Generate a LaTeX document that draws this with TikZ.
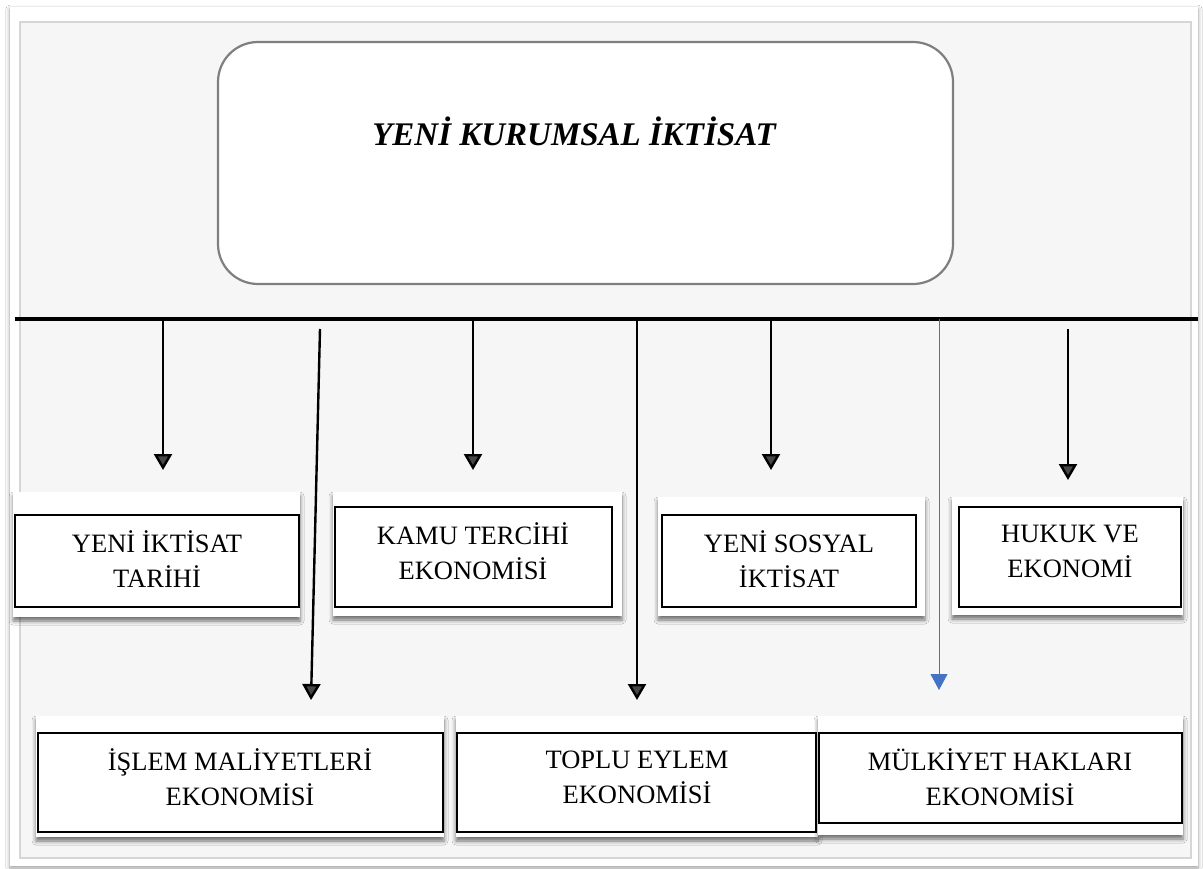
\documentclass[tikz,border=0pt]{standalone}
\usepackage{fontspec}
\setmainfont{Liberation Serif}
\usetikzlibrary{arrows.meta,shadows.blur}
\definecolor{panelgray}{HTML}{F6F6F6}
\definecolor{frameline}{HTML}{D6D6D6}
\definecolor{roundedge}{HTML}{7F7F7F}
\definecolor{linkblue}{HTML}{4472C4}

\begin{document}
\begin{tikzpicture}[x=1pt,y=-1pt,
  panel/.style={fill=white, blur shadow={shadow xshift=0pt, shadow yshift=-4pt,
      shadow blur radius=4pt, shadow opacity=55}},
  topic/.style={draw=black, line width=1.3pt, fill=white, inner sep=0pt},
  topictext/.style={align=center, font=\fontsize{26.5}{35}\selectfont, inner sep=0pt},
  conn/.style={line width=2.4pt, -{Triangle[width=18pt,length=16pt]}},
  bluelink/.style={draw=linkblue, line width=0.9pt, -{Triangle[width=17pt,length=16pt]}, fill=linkblue}
]
% canvas
\useasboundingbox (0,0) rectangle (1203,869);
\fill[white] (0,0) rectangle (1203,869);

% bevelled frame
\fill[white, blur shadow={shadow xshift=0pt, shadow yshift=-2pt, shadow blur radius=4pt, shadow opacity=40}]
  (10,7) rectangle (1198,866);
\filldraw[fill=panelgray, draw=frameline, line width=2pt] (20,22) rectangle (1191,858);

% root box
\node[draw=roundedge, line width=2.2pt, rounded corners=40pt, fill=white,
      minimum width=735pt, minimum height=242pt, inner sep=0pt] (root) at (585.5,163) {};
\node[font=\fontsize{33}{38}\selectfont\bfseries\itshape, inner sep=0pt] (roottext) at (574,131) {YENİ KURUMSAL İKTİSAT};

% bus line
\coordinate (busL) at (15,319);
\coordinate (busR) at (1198,319);
\draw[line width=4pt] (busL) -- (busR);

% white panels behind the topic boxes
\path[panel] (13,492) rectangle (300,617);
\path[panel] (333,492) rectangle (622,616);
\path[panel] (658,497) rectangle (925,616);
\path[panel] (952,497) rectangle (1183,615);
\path[panel] (36,716) rectangle (444,837);
\path[panel] (456,716) rectangle (818,837);
\path[panel] (818,716) rectangle (1183,835);

% topic boxes, upper row
\node[topic, minimum width=284pt, minimum height=92pt] (tarih) at (157,561) {};
\node[topic, minimum width=277pt, minimum height=100pt] (kamu) at (473.5,557) {};
\node[topic, minimum width=254pt, minimum height=92pt] (sosyal) at (789,561) {};
\node[topic, minimum width=222pt, minimum height=100pt] (hukuk) at (1070,557) {};
% topic boxes, lower row
\node[topic, minimum width=405pt, minimum height=99pt] (islem) at (240.5,782.5) {};
\node[topic, minimum width=359pt, minimum height=99pt] (toplu) at (636.5,782.5) {};
\node[topic, minimum width=363pt, minimum height=90pt] (mulkiyet) at (1000.5,778) {};

% topic labels
\node[topictext] (tarih-t) at (157,559) {YENİ İKTİSAT\\TARİHİ};
\node[topictext] (kamu-t) at (473,551) {KAMU TERCİHİ\\EKONOMİSİ};
\node[topictext] (sosyal-t) at (789,559) {YENİ SOSYAL\\İKTİSAT};
\node[topictext] (hukuk-t) at (1070,551) {HUKUK VE\\EKONOMİ};
\node[topictext] (islem-t) at (240,777) {İŞLEM MALİYETLERİ\\EKONOMİSİ};
\node[topictext] (toplu-t) at (637,777) {TOPLU EYLEM\\EKONOMİSİ};
\node[topictext] (mulkiyet-t) at (1000,777) {MÜLKİYET HAKLARI\\EKONOMİSİ};

% arrow start and end points
\coordinate (s1) at (163,319);   \coordinate (e1) at (163,470);
\coordinate (s2) at (320,329);   \coordinate (e2) at (311,700);
\coordinate (s3) at (473,319);   \coordinate (e3) at (473,470);
\coordinate (s4) at (637,319);   \coordinate (e4) at (637,700);
\coordinate (s5) at (771,319);   \coordinate (e5) at (771,470);
\coordinate (s6) at (939,319);   \coordinate (e6) at (939,690);
\coordinate (s7) at (1068,329);  \coordinate (e7) at (1068,480);

\draw[conn] (s1) -- (e1);
\draw[conn] (s2) -- (e2);
\draw[conn] (s3) -- (e3);
\draw[conn] (s4) -- (e4);
\draw[conn] (s5) -- (e5);
\draw[bluelink] (s6) -- (e6);
\draw[conn] (s7) -- (e7);
\end{tikzpicture}
\end{document}
